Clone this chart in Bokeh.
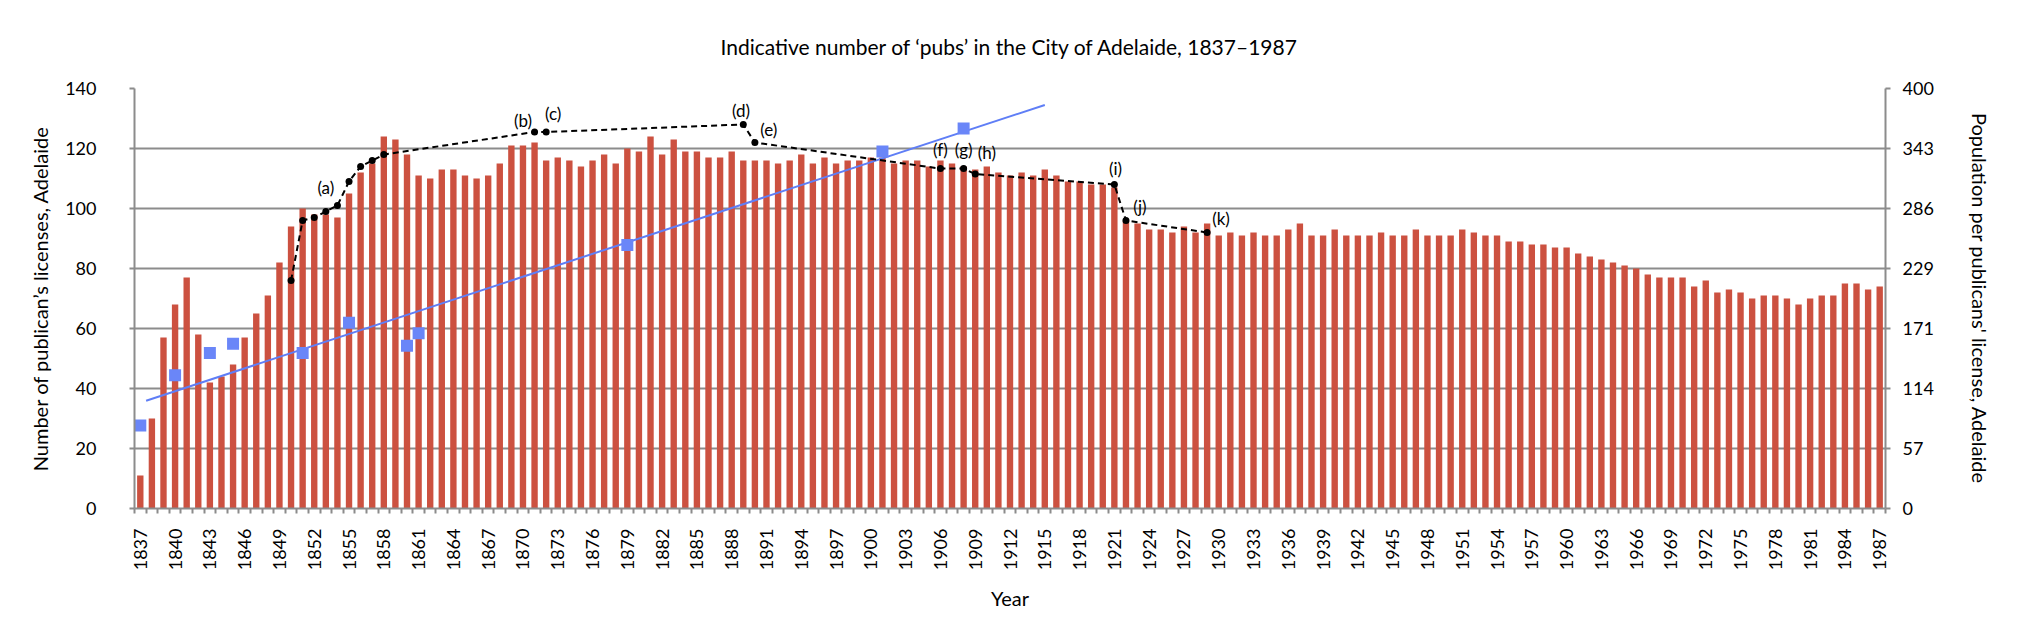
import math
from bokeh.plotting import figure
from bokeh.models import Range1d, LinearAxis, FixedTicker, PrintfTickFormatter, Grid
from bokeh.embed import file_html
from bokeh.resources import INLINE
from bokeh.core.properties import value

FONT = "Lato"

# ---------------- data ----------------
years = list(range(1837, 1988))
licenses = [
    11, 30, 57, 68, 77, 58, 42, 44, 48, 57,          # 1837-1846
    65, 71, 82, 94, 100, 98, 98, 97, 105, 112,       # 1847-1856
    115, 124, 123, 118, 111, 110, 113, 113, 111, 110, # 1857-1866
    111, 115, 121, 121, 122, 116, 117, 116, 114, 116, # 1867-1876
    118, 115, 120, 119, 124, 118, 123, 119, 119, 117, # 1877-1886
    117, 119, 116, 116, 116, 115, 116, 118, 115, 117, # 1887-1896
    115, 116, 116, 117, 117, 115, 116, 116, 114, 116, # 1897-1906
    115, 114, 113, 114, 112, 111, 112, 111, 113, 111, # 1907-1916
    109, 109, 108, 108, 107, 96, 95, 93, 93, 92,      # 1917-1926
    94, 92, 95, 91, 92, 91, 92, 91, 91, 93,           # 1927-1936
    95, 91, 91, 93, 91, 91, 91, 92, 91, 91,           # 1937-1946
    93, 91, 91, 91, 93, 92, 91, 91, 89, 89,           # 1947-1956
    88, 88, 87, 87, 85, 84, 83, 82, 81, 80,           # 1957-1966
    78, 77, 77, 77, 74, 76, 72, 73, 72, 70,           # 1967-1976
    71, 71, 70, 68, 70, 71, 71, 75, 75, 73,           # 1977-1986
    74,                                               # 1987
]

# population per publican's license (right axis)
pop_years = [1837, 1840, 1843, 1845, 1851, 1855, 1860, 1861, 1879, 1901, 1908]
pop_per_license = [79, 127, 148, 157, 148, 177, 155, 167, 251, 340, 362]

# linear trend line of the population series (end points)
trend_years = [1837.5, 1915.0]
trend_values = [102.6, 384.3]

# annotated dashed series (left axis units)
note_years = [1850, 1851, 1852, 1853, 1854, 1855, 1856, 1857, 1858,
              1871, 1872, 1889, 1890, 1906, 1908, 1909, 1921, 1922, 1929]
note_values = [76, 96, 97, 99, 101, 109, 114, 116, 118,
               125.5, 125.5, 128, 122, 113.3, 113.3, 111.5, 108, 96, 92]

label_text = ["(a)", "(b)", "(c)", "(d)", "(e)", "(f)", "(g)", "(h)", "(i)", "(j)", "(k)"]
label_x = [1853, 1870, 1872.6, 1888.8, 1891.2, 1906, 1908, 1910, 1921.1, 1923.2, 1930.2]
label_y = [107, 129.5, 131.7, 132.6, 126.2, 119.6, 119.6, 118.8, 113.3, 100.8, 96.6]

x_tick_years = list(range(1837, 1988, 3))
left_ticks = [0, 20, 40, 60, 80, 100, 120, 140]
right_tick_labels = ["0", "57", "114", "171", "229", "286", "343", "400"]

TITLE = "Indicative number of \u2018pubs\u2019 in the City of Adelaide, 1837\u20131987"
LEFT_LABEL = "Number of publican\u2019s licenses, Adelaide"
RIGHT_LABEL = "Population per publicans' license, Adelaide"
X_LABEL = "Year"

# ---------------- figure ----------------
GRID = "#8c8c8c"
BAR = "#CC5140"
BLUE = "#6A86F8"

p = figure(width=2010, height=613, output_backend="svg", toolbar_location=None,
           x_range=Range1d(1836.5, 1987.5), y_range=Range1d(0, 140),
           min_border_left=134, min_border_right=125, min_border_top=88,
           min_border_bottom=99, x_axis_location=None, y_axis_location=None)
p.outline_line_color = None
p.background_fill_color = "white"
p.border_fill_color = "white"

p.title.text = TITLE
p.title.align = "center"
p.title.text_font = FONT
p.title.text_font_size = "21px"
p.title.text_font_style = "normal"
p.title.text_color = "black"
p.title.standoff = 60

p.extra_y_ranges = {"pop": Range1d(0, 400)}

# x axis
xaxis = LinearAxis(axis_label=X_LABEL,
                   ticker=FixedTicker(ticks=x_tick_years,
                                      minor_ticks=[y - 0.5 for y in years + [1988]]),
                   formatter=PrintfTickFormatter(format="%d"))
xaxis.major_label_orientation = math.pi / 2
xaxis.major_tick_out = 0
xaxis.major_tick_in = 0
xaxis.minor_tick_out = 5
xaxis.minor_tick_in = 0
xaxis.minor_tick_line_color = GRID
xaxis.minor_tick_line_width = 2
xaxis.axis_line_color = GRID
xaxis.axis_line_width = 2
xaxis.major_label_standoff = 15
xaxis.axis_label_standoff = 13
p.add_layout(xaxis, "below")

# left axis
laxis = LinearAxis(axis_label=LEFT_LABEL, ticker=FixedTicker(ticks=left_ticks))
laxis.major_tick_out = 5
laxis.major_tick_in = 0
laxis.minor_tick_line_color = None
laxis.major_tick_line_color = GRID
laxis.major_tick_line_width = 2
laxis.axis_line_color = GRID
laxis.axis_line_width = 2
laxis.major_label_standoff = 33
laxis.axis_label_standoff = 10
p.add_layout(laxis, "left")

# right axis
right_ticks = [t * 400 / 140 for t in left_ticks]
raxis = LinearAxis(y_range_name="pop", axis_label=RIGHT_LABEL,
                   ticker=FixedTicker(ticks=right_ticks),
                   major_label_overrides={t: s for t, s in zip(right_ticks, right_tick_labels)})
raxis.major_tick_out = 5
raxis.major_tick_in = 0
raxis.minor_tick_line_color = None
raxis.major_tick_line_color = GRID
raxis.major_tick_line_width = 2
raxis.axis_line_color = GRID
raxis.axis_line_width = 2
raxis.major_label_standoff = 12
raxis.axis_label_standoff = 31
p.add_layout(raxis, "right")

for ax in (xaxis, laxis, raxis):
    ax.major_label_text_font = FONT
    ax.major_label_text_font_size = "18px"
    ax.major_label_text_color = "black"
    ax.axis_label_text_font = FONT
    ax.axis_label_text_font_size = "20px"
    ax.axis_label_text_font_style = "normal"
    ax.axis_label_text_color = "black"

p.xgrid.grid_line_color = None
p.ygrid.grid_line_color = None
g = Grid(dimension=1, ticker=laxis.ticker, grid_line_color=GRID, grid_line_width=2)
p.add_layout(g)

# ---------------- marks ----------------
p.vbar(x=years, top=licenses, width=0.55, color=BAR, line_color=None)
p.line(trend_years, trend_values, y_range_name="pop", line_color="#5F7EF6", line_width=2)
p.scatter(pop_years, pop_per_license, y_range_name="pop", marker="square",
          size=12, fill_color=BLUE, line_color=None)
p.line(note_years, note_values, line_color="black", line_width=2, line_dash="6 4")
p.scatter(note_years, note_values, marker="circle", size=7, fill_color="black",
          line_color=None)
p.text(x=label_x, y=label_y, text=label_text, text_align="center",
       text_baseline="middle", text_font=value(FONT), text_font_size="17px",
       text_color="black")

open("out.html", "w").write(file_html(p, INLINE))
